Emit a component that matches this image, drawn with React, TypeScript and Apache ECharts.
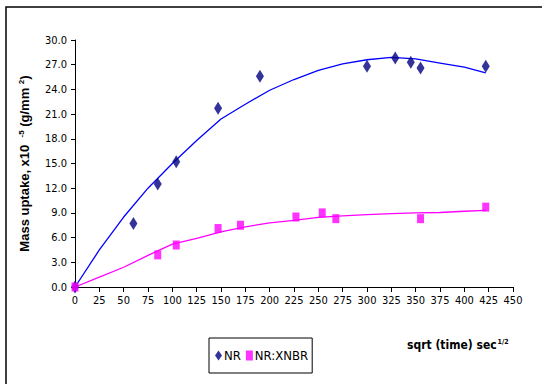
import React, { useEffect, useRef } from "react";
import * as echarts from "echarts";

const nrX = [0, 60, 85, 104, 147, 190, 300, 329, 345, 355, 422];
const nrY = [0, 7.7, 12.5, 15.2, 21.7, 25.6, 26.8, 27.8, 27.3, 26.6, 26.8];
const xnbrX = [0, 85, 104, 147, 170, 227, 254, 268, 355, 422];
const xnbrY = [0, 3.9, 5.1, 7.1, 7.5, 8.5, 9.0, 8.3, 8.3, 9.7];

const trendX = [0, 25, 50, 75, 100, 125, 150, 175, 200, 225, 250, 275, 300, 325, 350, 375, 400, 422];
const nrTrendY = [0, 4.5, 8.5, 12.0, 15.0, 17.8, 20.4, 22.2, 23.9, 25.2, 26.3, 27.1, 27.6, 27.9, 27.7, 27.2, 26.7, 26.0];
const xnbrTrendY = [0, 1.2, 2.4, 3.85, 5.2, 5.9, 6.7, 7.3, 7.8, 8.1, 8.45, 8.65, 8.8, 8.9, 9.0, 9.05, 9.2, 9.3];

const seriesNames = ["NR", "NR:XNBR"];
const xAxisTitle = "sqrt (time) sec";

const FONT = "'DejaVu Sans Condensed', 'Liberation Sans Narrow', Arial, sans-serif";
const BOLD = "'Liberation Sans', Arial, sans-serif";

const zip = (xs: number[], ys: number[]) => xs.map((x, i) => [x, ys[i]]);

export default function App() {
  const ref = useRef<HTMLDivElement>(null);
  useEffect(() => {
    if (!ref.current) return;
    const chart = echarts.init(ref.current, null, { renderer: "svg" });
    chart.setOption({
      animation: false,
      backgroundColor: "#ffffff",
      grid: { left: 75, right: 29, top: 40, bottom: 97, containLabel: false },
      xAxis: {
        type: "value",
        min: 0,
        max: 450,
        interval: 25,
        axisLine: { lineStyle: { color: "#000", width: 1 } },
        axisTick: { show: true, length: 5, lineStyle: { color: "#000" } },
        axisLabel: { color: "#000", fontSize: 11, fontFamily: FONT, margin: 8 },
        splitLine: { show: false },
      },
      yAxis: {
        type: "value",
        min: 0,
        max: 30,
        interval: 3,
        axisLine: { show: true, lineStyle: { color: "#000", width: 1 } },
        axisTick: { show: true, length: 4, lineStyle: { color: "#000" } },
        axisLabel: {
          color: "#000",
          fontSize: 11,
          fontFamily: FONT,
          margin: 8,
          formatter: (v: number) => v.toFixed(1),
        },
        splitLine: { show: false },
        name: "{a|Mass uptake, x10  }{s|-5}{a| (g/mm }{s|2}{a|)}",
        nameLocation: "middle",
        nameRotate: 90,
        nameGap: 44,
        nameTextStyle: {
          rich: {
            a: { fontSize: 13, fontWeight: "bold", fontFamily: BOLD, color: "#000" },
            s: { fontSize: 8, fontWeight: "bold", fontFamily: BOLD, color: "#000", verticalAlign: "top", padding: [0, 0, 6, 0] },
          },
        },
      },
      legend: {
        left: 209,
        top: 338,
        orient: "horizontal",
        borderColor: "#000",
        borderWidth: 1,
        padding: [11, 4, 11, 6],
        itemGap: 5,
        itemWidth: 7,
        itemHeight: 10,
        textStyle: { fontSize: 13, fontFamily: FONT, color: "#000", padding: [0, 0, 0, -3] },
        data: [
          { name: seriesNames[0], icon: "diamond", itemStyle: { color: "#000080" } },
          { name: seriesNames[1], icon: "rect", itemStyle: { color: "#ff00ff" } },
        ],
      },
      graphic: [
        {
          type: "polyline",
          shape: { points: [[6, 400], [6, 7], [560, 7]] },
          style: { stroke: "#000", lineWidth: 1.5, fill: "none" },
        },
        {
          type: "text",
          left: 407,
          top: 338,
          style: {
            text: "{a|" + xAxisTitle + "}{s|1/2}",
            rich: {
              a: { fontSize: 12, fontWeight: "bold", fontFamily: FONT, fill: "#000" },
              s: { fontSize: 7, fontWeight: "bold", fontFamily: FONT, fill: "#000", verticalAlign: "top", padding: [0, 0, 6, 1] },
            },
          },
        },
      ],
      series: [
        {
          name: seriesNames[0] + " trend",
          type: "line",
          data: zip(trendX, nrTrendY),
          showSymbol: false,
          lineStyle: { color: "#0000ff", width: 1.3 },
          silent: true,
          z: 1,
        },
        {
          name: seriesNames[1] + " trend",
          type: "line",
          data: zip(trendX, xnbrTrendY),
          showSymbol: false,
          lineStyle: { color: "#ff00ff", width: 1.3 },
          silent: true,
          z: 1,
        },
        {
          name: seriesNames[0],
          type: "scatter",
          data: zip(nrX, nrY),
          symbol: "diamond",
          symbolSize: [8, 13],
          itemStyle: { color: "#000080" },
          z: 3,
        },
        {
          name: seriesNames[1],
          type: "scatter",
          data: zip(xnbrX, xnbrY),
          symbol: "rect",
          symbolSize: [7, 9],
          itemStyle: { color: "#ff00ff" },
          z: 4,
        },
      ],
    });
    return () => chart.dispose();
  }, []);
  return <div ref={ref} style={{ width: 542, height: 384, position: "absolute", left: 0, top: 0 }} />;
}
